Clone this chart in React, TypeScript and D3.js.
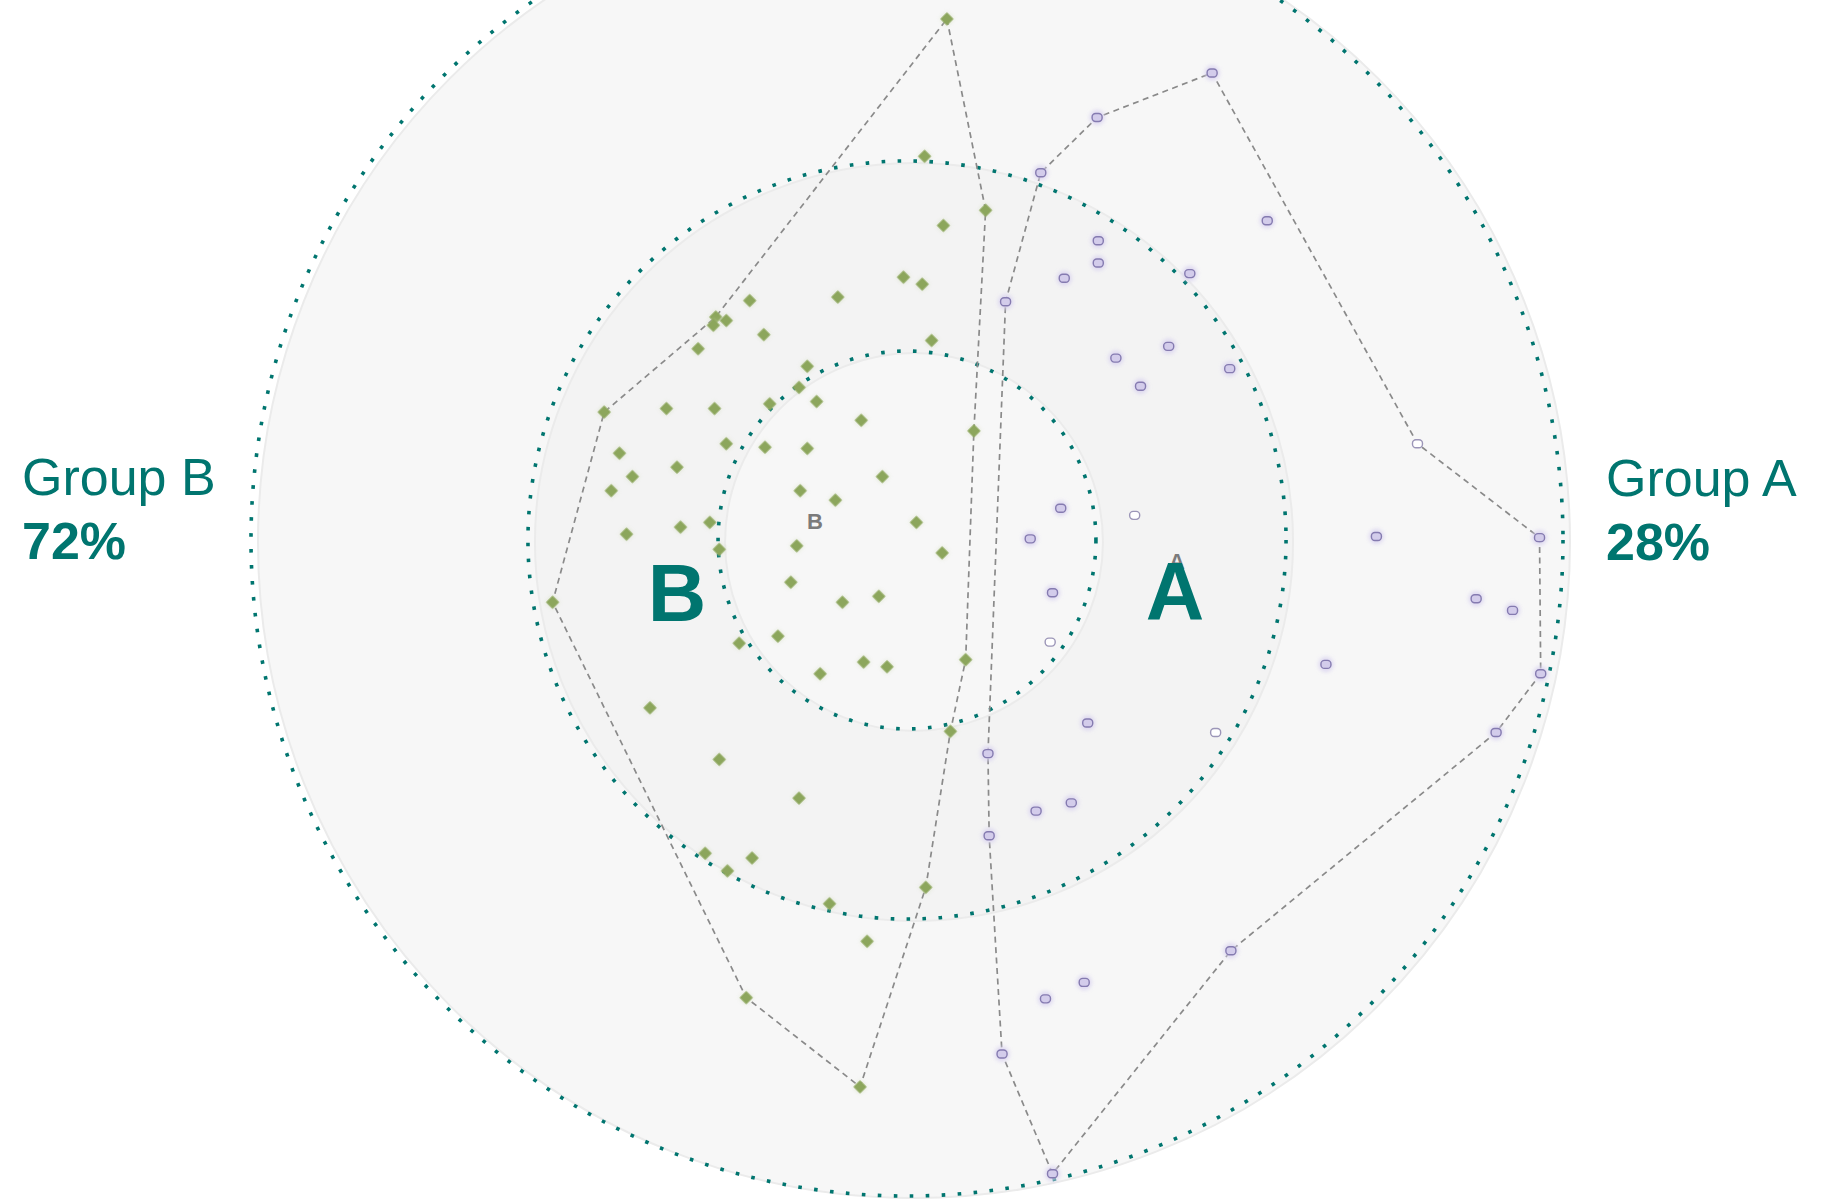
import React from "react";
import * as d3 from "d3";

// Point readings: x, y relative to chart centre (outer ring radius = 559 units), y up.
const groupBPoints: [number, number][] = [
  [34, 444], [15, 327], [67, 281], [31, 268], [-3, 224], [13, 218], [-59, 207], [-134, 204],
  [-163, 190], [-154, 187], [-165, 183], [-122, 175], [21, 170], [-178, 163], [-85, 148],
  [-92, 130], [-77, 118], [-117, 116], [-258, 109], [-205, 112], [-164, 112], [-39, 102],
  [57, 93], [-154, 82], [-121, 79], [-85, 78], [-245, 74], [-196, 62], [-234, 54], [-21, 54],
  [-252, 42], [-91, 42], [-61, 34], [8, 15], [-239, 5], [-193, 11], [-168, 15], [-94, -5],
  [30, -11], [-160, -8], [-302, -53], [-99, -36], [-55, -53], [-24, -48], [-143, -88],
  [-110, -82], [50, -102], [-37, -104], [-17, -108], [-74, -114], [-219, -143], [37, -163],
  [-160, -187], [-92, -220], [-172, -267], [-132, -271], [-153, -282], [16, -296],
  [-66, -310], [-34, -342], [-137, -390], [-40, -466],
];
// hull path through group B points (1-based indices into groupBPoints)
const groupBPath = [1, 3, 23, 47, 52, 58, 62, 61, 41, 19, 9, 1];

const groupAPoints: [number, number][] = [
  [260, 398], [162, 360], [114, 313], [307, 272], [163, 255], [163, 236], [134, 223],
  [241, 227], [84, 203], [223, 165], [178, 155], [275, 146], [199, 131], [435, 82],
  [131, 27], [194, 21], [400, 3], [539, 2], [105, 1], [124, -45], [485, -50], [516, -60],
  [122, -87], [357, -106], [540, -114], [154, -156], [263, -164], [502, -164], [69, -182],
  [140, -224], [110, -231], [70, -252], [276, -350], [151, -377], [118, -391], [81, -438],
  [124, -540],
];
// group A points with no value recorded (1-based)
const groupAOpen = [14, 16, 23, 27];
const groupAPath = [37, 36, 32, 29, 9, 3, 2, 1, 14, 18, 25, 28, 33, 37];

const ringRadii = [161, 323, 559];
const groupLabels = ["Group B", "Group A"];
const groupShares = [72, 28];
const groupLetters = ["B", "A"];

const W = 1845;
const H = 1200;
const CX = 907;
const CY = 540;
const R = 656;

export default function App() {
  const x = d3.scaleLinear().domain([-559, 559]).range([CX - R, CX + R]);
  const y = d3.scaleLinear().domain([-559, 559]).range([CY + R, CY - R]);
  const rs = d3.scaleLinear().domain([0, 559]).range([0, R]);
  const teal = "#00756f";
  const line = d3
    .line<[number, number]>()
    .x((d) => x(d[0]))
    .y((d) => y(d[1]));
  const bLine = line(groupBPath.map((i) => groupBPoints[i - 1]));
  const aLine = line(groupAPath.map((i) => groupAPoints[i - 1]));
  const diamond = d3.symbol(d3.symbolSquare, 88)();
  const fills = ["#f7f7f7", "#f3f3f3", "#f7f7f7"];
  const font = "'Liberation Sans', Arial, Helvetica, sans-serif";

  return (
    <svg
      width={W}
      height={H}
      style={{ position: "absolute", left: 0, top: 0, background: "#fff" }}
    >
      <defs>
        <filter id="soft" x="-50%" y="-50%" width="200%" height="200%">
          <feGaussianBlur stdDeviation="0.7" />
        </filter>
        <filter id="halo" x="-100%" y="-100%" width="300%" height="300%">
          <feGaussianBlur stdDeviation="2" />
        </filter>
      </defs>
      {/* background discs */}
      {[2, 1, 0].map((i) => (
        <circle
          key={"d" + i}
          cx={CX + 7}
          cy={CY + 2}
          r={rs(ringRadii[i])}
          fill={fills[i]}
          stroke="#ebebeb"
          strokeWidth={2}
        />
      ))}
      {/* dotted rings */}
      {ringRadii.map((r, i) => (
        <circle
          key={"r" + i}
          cx={CX}
          cy={CY}
          r={rs(r)}
          fill="none"
          stroke={teal}
          strokeWidth={3.6}
          strokeDasharray="3.6 12.4"
        />
      ))}
      {/* hull lines */}
      <path d={bLine || ""} fill="none" stroke="#8a8a8a" strokeWidth={1.7} strokeDasharray="6 4.5" />
      <path d={aLine || ""} fill="none" stroke="#8a8a8a" strokeWidth={1.7} strokeDasharray="6 4.5" />
      {/* group B markers */}
      <g>
        {groupBPoints.map((p, i) => (
          <g key={"b" + i} transform={`translate(${x(p[0])},${y(p[1])}) rotate(45)`}>
            <path d={diamond || ""} fill="#c9d6ae" opacity={0.6} filter="url(#halo)" />
            <path d={diamond || ""} fill="#8ca65b" filter="url(#soft)" />
          </g>
        ))}
      </g>
      {/* group A markers */}
      <g>
        {groupAPoints.map((p, i) => {
          const open = groupAOpen.includes(i + 1);
          const px = x(p[0]);
          const py = y(p[1]);
          return (
            <g key={"a" + i}>
              {!open && (
                <circle cx={px} cy={py} r={7.5} fill="#d8d1ef" opacity={0.85} filter="url(#halo)" />
              )}
              <rect
                x={px - 5}
                y={py - 4}
                width={10}
                height={8}
                rx={3.5}
                fill={open ? "#ffffff" : "#d3cceb"}
                stroke={open ? "#9c96b8" : "#857bb0"}
                strokeWidth={1.4}
              />
            </g>
          );
        })}
      </g>
      {/* small centre letters */}
      <text x={815} y={529} textAnchor="middle" fontFamily={font} fontWeight="bold" fontSize={22} fill="#7b7b7b">
        B
      </text>
      <text x={1177} y={569} textAnchor="middle" fontFamily={font} fontWeight="bold" fontSize={22} fill="#7b7b7b">
        A
      </text>
      {/* big letters */}
      <text x={677} y={621} textAnchor="middle" fontFamily={font} fontWeight="bold" fontSize={81} fill={teal}>
        {groupLetters[0]}
      </text>
      <text x={1175} y={619} textAnchor="middle" fontFamily={font} fontWeight="bold" fontSize={81} fill={teal}>
        {groupLetters[1]}
      </text>
      {/* side labels */}
      <text x={22} y={495} fontFamily={font} fontSize={52} fill={teal}>
        {groupLabels[0]}
      </text>
      <text x={22} y={559} fontFamily={font} fontSize={52} fontWeight="bold" fill={teal}>
        {groupShares[0]}%
      </text>
      <text x={1606} y={496} fontFamily={font} fontSize={52} fill={teal}>
        {groupLabels[1]}
      </text>
      <text x={1606} y={560} fontFamily={font} fontSize={52} fontWeight="bold" fill={teal}>
        {groupShares[1]}%
      </text>
    </svg>
  );
}
